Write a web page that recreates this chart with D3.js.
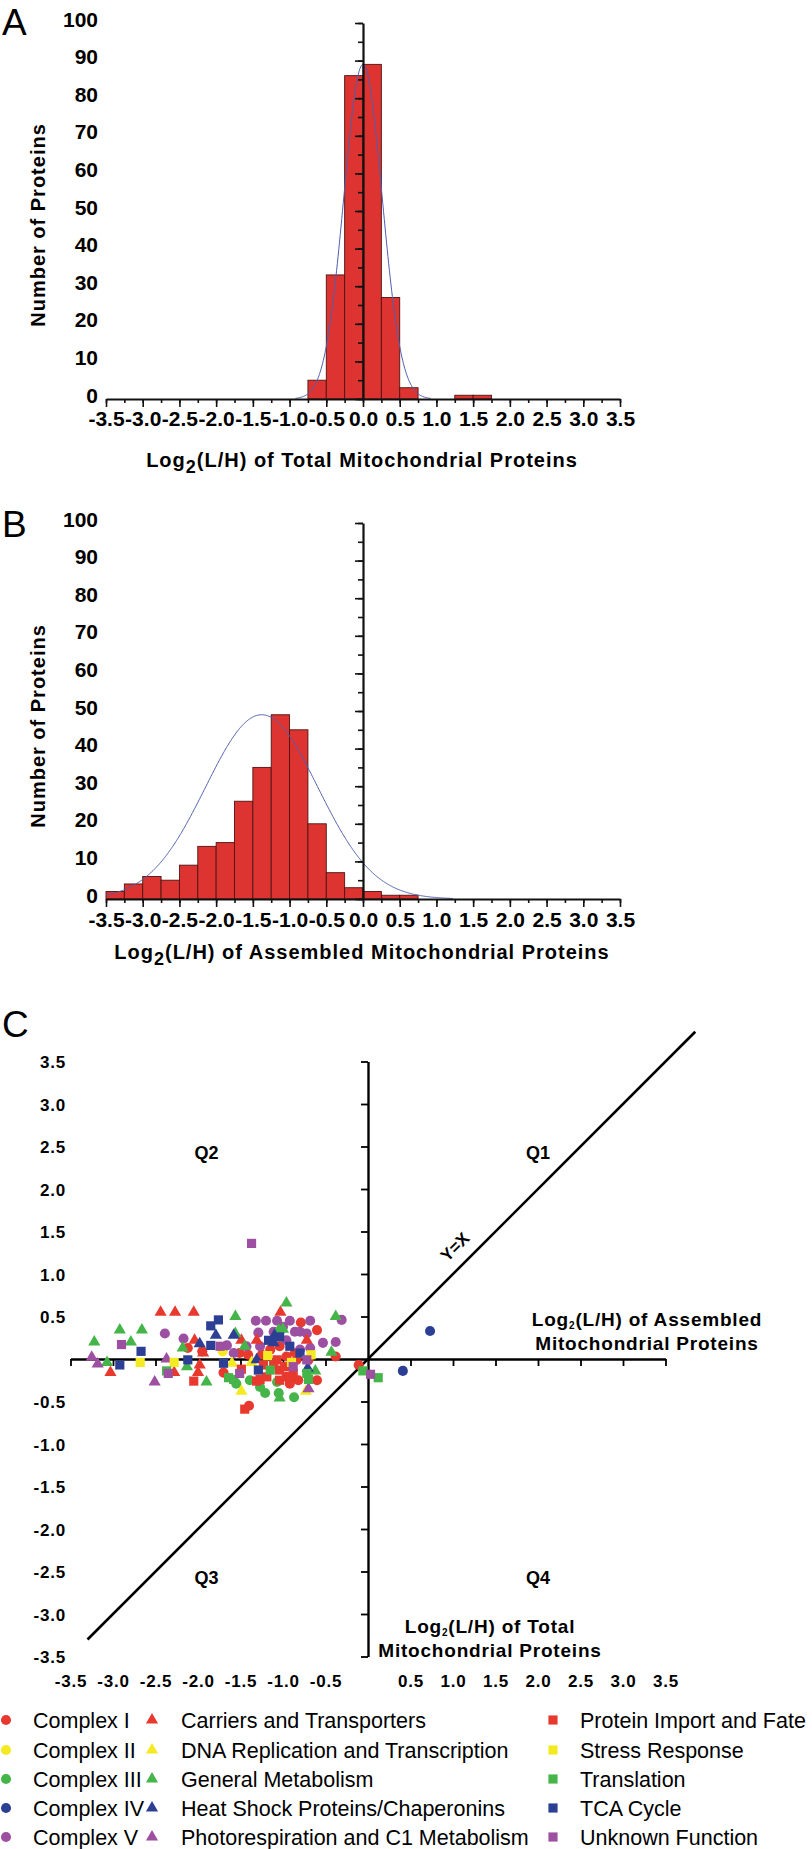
<!DOCTYPE html>
<html><head><meta charset="utf-8">
<script src="https://cdn.jsdelivr.net/npm/d3@7"></script>
<style>
body{margin:0;background:#fff;}
svg text{font-family:"Liberation Sans", Arial, Helvetica, sans-serif;fill:#000;}
</style></head><body>
<svg id="chart" width="812" height="1849"></svg>
<script>
// ---------------- DATA ----------------
const binWidth = 0.25;
const binStartsA = [-0.75, -0.5, -0.25, 0, 0.25, 0.5, 1.25, 1.5];
const countsA    = [5, 33, 86, 89, 27, 3, 1, 1];
const binStartsB = [-3.5, -3.25, -3.0, -2.75, -2.5, -2.25, -2.0, -1.75, -1.5, -1.25, -1.0, -0.75, -0.5, -0.25, 0, 0.25, 0.5];
const countsB    = [2, 4, 6, 5, 9, 14, 15, 26, 35, 49, 45, 20, 7, 3, 2, 1, 1];
// fitted normal curves (mean, sd, peak height)
const fitMeanA = 0.0,  fitSdA = 0.26,  fitPeakA = 89;
const fitMeanB = -1.38, fitSdB = 0.765, fitPeakB = 49;

const histXTicks = [-3.5,-3.0,-2.5,-2.0,-1.5,-1.0,-0.5,0.0,0.5,1.0,1.5,2.0,2.5,3.0,3.5];
const histXTickLabels = ["-3.5","-3.0","-2.5","-2.0","-1.5","-1.0","-0.5","0.0","0.5","1.0","1.5","2.0","2.5","3.0","3.5"];
const histYTicks = [0,10,20,30,40,50,60,70,80,90,100];

const scatTicks = [-3.5,-3.0,-2.5,-2.0,-1.5,-1.0,-0.5,0.5,1.0,1.5,2.0,2.5,3.0,3.5];
const scatTickLabels = ["-3.5","-3.0","-2.5","-2.0","-1.5","-1.0","-0.5","0.5","1.0","1.5","2.0","2.5","3.0","3.5"];
const yxLineExtent = [-3.3, 3.85];

const legendLabels = [
  "Complex I","Complex II","Complex III","Complex IV","Complex V",
  "Carriers and Transporters","DNA Replication and Transcription","General Metabolism","Heat Shock Proteins/Chaperonins","Photorespiration and C1 Metabolism",
  "Protein Import and Fate","Stress Response","Translation","TCA Cycle","Unknown Function"
];

// scatter points, group = index into legendLabels
const scatterX = [
 -3.22,-3.25,-3.18,-3.07,-3.03,-2.90,-2.92,-2.79,-2.92,-2.67,-2.66,-2.68,-2.51,-2.44,-2.27,-2.05,-2.39,-2.17,-2.12,-2.18,
 -2.28,-2.37,-2.37,-2.35,-2.28,-2.12,-2.13,-2.04,-1.98,-2.00,-2.05,-1.90,-1.98,-1.85,-1.76,-1.85,-1.79,-1.95,-1.94,-1.66,
 -1.58,-1.56,-1.56,-1.71,-1.58,-1.70,-1.70,-1.64,-1.55,-1.58,-1.49,-1.45,-1.41,-1.49,-1.60,-1.51,-1.49,-1.45,-1.40,-1.37,
 -1.37,-1.39,-1.31,-1.27,-1.32,-1.20,-1.07,-0.92,-0.68,-1.03,-0.96,-1.05,-1.00,-0.79,-0.60,-1.29,-1.11,-0.86,-0.80,-1.10,
 -1.17,-1.11,-0.96,-1.31,-0.72,-0.53,-0.38,-1.27,-1.25,-1.18,-1.04,-0.92,-0.80,-0.80,-0.68,-0.67,-0.96,-1.07,-1.11,-0.90,
 -1.29,-1.04,-1.15,-0.88,-0.92,-0.82,-1.07,-1.21,-1.05,-1.04,-0.87,-0.71,-0.62,-0.70,-0.60,-0.70,-0.73,-0.43,-0.38,-0.38,
 -0.31,-0.11,-0.06,0.03,0.12,0.41,0.73,
 -1.51,-1.43,-1.23,-1.15,-1.04,-0.98,-0.88,-0.84,-1.19,-1.27,-0.88,-1.74,-0.72,-0.72,-0.70,-1.31,-0.92,-0.72,-0.96,-1.04,-1.00
];
const scatterY = [
 0.20,0.02,-0.06,-0.04,-0.16,0.17,0.34,0.20,-0.07,0.09,0.34,-0.04,-0.27,0.55,0.55,0.55,0.30,0.24,0.13,0.13,
 -0.04,0.00,-0.14,-0.17,-0.16,-0.01,-0.09,0.22,-0.07,-0.16,-0.26,-0.27,0.18,0.39,0.46,0.16,0.28,0.09,0.07,0.16,
 0.28,0.50,0.30,0.09,0.07,-0.05,-0.16,-0.22,-0.29,-0.24,0.22,0.15,0.05,-0.12,-0.05,-0.17,-0.38,-0.59,-0.55,1.36,
 -0.04,-0.25,-0.26,-0.24,0.45,0.45,0.45,0.45,0.45,0.55,0.66,0.34,0.35,0.43,0.34,0.31,0.32,0.32,0.32,0.28,
 0.22,0.19,0.22,0.22,0.22,0.19,0.20,0.15,0.05,0.04,0.15,0.15,0.11,0.07,0.13,0.05,0.03,-0.01,-0.07,-0.04,
 -0.13,-0.13,-0.13,-0.17,-0.29,-0.25,-0.27,-0.40,-0.40,-0.46,-0.45,-0.11,-0.14,-0.24,-0.25,-0.35,-0.38,0.08,0.03,0.50,
 0.46,-0.07,-0.14,-0.18,-0.22,-0.14,0.33,
 0.07,0.15,-0.07,0.11,0.26,-0.09,-0.09,-0.01,-0.21,-0.33,0.07,0.15,0.30,-0.17,-0.01,-0.01,-0.21,-0.01,-0.21,-0.25,0.38
];
const scatterGroup = [
 7,9,9,7,5,14,7,7,13,13,7,11,9,5,5,5,4,4,0,7,
 11,9,12,14,5,13,7,5,5,5,10,7,8,13,13,13,8,0,5,4,
 8,7,7,1,4,13,0,12,2,12,5,7,0,10,6,14,6,10,0,14,
 6,2,10,10,4,4,4,4,4,5,7,7,7,0,0,4,4,4,4,8,
 13,8,4,5,5,4,4,4,0,11,0,13,4,13,4,11,0,10,10,11,
 13,10,12,10,0,0,2,2,2,7,2,8,7,12,0,9,6,7,0,7,
 4,0,12,14,12,3,3,
 0,4,10,0,13,10,14,0,10,2,5,14,4,12,0,8,10,14,0,10,4
];

// ---------------- STYLE ----------------
const BAR_FILL = "#dd3431", BAR_STROKE = "#4d1512", CURVE = "#4f5fae";
const groupColors = ["#e8392e","#f3ea22","#46b549","#2c3f94","#9d4fa2"];
const groupShapes = [d3.symbolCircle, d3.symbolTriangle, d3.symbolSquare];
const shapeSizes = [80, 64, 84];
function colorOf(g){ return groupColors[g % 5]; }
function shapeOf(g){ return Math.floor(g / 5); }

const svg = d3.select("#chart");

// ---------------- HISTOGRAMS ----------------
function histogram(opt){
  const x = d3.scaleLinear().domain([-3.5,3.5]).range([106,620]);
  const y = d3.scaleLinear().domain([0,100]).range([opt.base, opt.top]);
  const g = svg.append("g");
  g.selectAll("rect").data(opt.starts).join("rect")
    .attr("x", d => x(d)).attr("width", d => x(d+binWidth)-x(d))
    .attr("y", (d,i) => y(opt.counts[i])).attr("height", (d,i) => y(0)-y(opt.counts[i]))
    .attr("fill", BAR_FILL).attr("stroke", BAR_STROKE).attr("stroke-width", 0.9);
  const xs = d3.range(-3.5, 3.5001, 0.01);
  const fy = v => opt.peak*Math.exp(-Math.pow(v-opt.mean,2)/(2*opt.sd*opt.sd));
  g.append("path").datum(xs.filter(v => fy(v) > 0.15))
    .attr("d", d3.line().x(v => x(v)).y(v => y(fy(v))))
    .attr("fill","none").attr("stroke", CURVE).attr("stroke-width", 1);
  const minor = d3.range(-3.5, 3.5001, 0.25);
  g.append("g").attr("transform",`translate(0,${opt.base})`)
    .call(d3.axisBottom(x).tickValues(minor).tickSize(4).tickFormat("").tickSizeOuter(0))
    .call(a => a.select(".domain").attr("stroke-width",2.2).attr("stroke","#111"))
    .call(a => a.selectAll("line").attr("stroke-width",1.6).attr("stroke","#111"));
  g.append("g").attr("transform",`translate(0,${opt.base})`)
    .call(d3.axisBottom(x).tickValues(histXTicks).tickSize(8).tickSizeOuter(0)
          .tickFormat((d,i) => histXTickLabels[i]))
    .call(a => a.select(".domain").remove())
    .call(a => a.selectAll("line").attr("stroke-width",1.6).attr("stroke","#111"))
    .call(a => a.selectAll("text").attr("y", opt.labOff).attr("dy", 0)
          .attr("font-size", 21).attr("font-weight","bold").attr("fill","#111"));
  const minY = d3.range(0, 100.01, 5);
  g.append("g").attr("transform",`translate(${x(0)},0)`)
    .call(d3.axisLeft(y).tickValues(minY).tickSize(5).tickFormat("").tickSizeOuter(0))
    .call(a => a.select(".domain").attr("stroke-width",2.2).attr("stroke","#111"))
    .call(a => a.selectAll("line").attr("stroke-width",1.6).attr("stroke","#111"));
  g.append("g").attr("transform",`translate(${x(0)},0)`)
    .call(d3.axisLeft(y).tickValues(histYTicks).tickSize(8).tickSizeOuter(0))
    .call(a => a.select(".domain").remove())
    .call(a => a.selectAll("line").attr("stroke-width",1.6).attr("stroke","#111"))
    .call(a => a.selectAll("text").attr("x", 98 - x(0)).attr("dy","0.15em")
          .attr("font-size", 21).attr("font-weight","bold").attr("fill","#111"));
  svg.append("text").attr("transform",`translate(45,${opt.yTitleY}) rotate(-90)`)
    .attr("text-anchor","middle").attr("font-size",20).attr("font-weight","bold")
    .attr("letter-spacing",1).text("Number of Proteins");
  const t = svg.append("text").attr("x", 362).attr("y", opt.titleY).attr("text-anchor","middle")
    .attr("font-size",20).attr("font-weight","bold").attr("letter-spacing",1);
  t.append("tspan").text("Log");
  t.append("tspan").attr("font-size",18).attr("dy",6).text("2");
  t.append("tspan").attr("dy",-6).text(opt.titleRest);
  svg.append("text").attr("x",2).attr("y",opt.letterY).attr("font-size",37).text(opt.letter);
}

histogram({starts: binStartsA, counts: countsA, mean: fitMeanA, sd: fitSdA, peak: fitPeakA,
  base: 399, top: 23, labOff: 27, titleY: 467, yTitleY: 225, letter: "A", letterY: 35,
  titleRest: "(L/H) of Total Mitochondrial Proteins"});
histogram({starts: binStartsB, counts: countsB, mean: fitMeanB, sd: fitSdB, peak: fitPeakB,
  base: 899, top: 523, labOff: 28, titleY: 959, yTitleY: 726, letter: "B", letterY: 537,
  titleRest: "(L/H) of Assembled Mitochondrial Proteins"});

// ---------------- SCATTER ----------------
const xC = d3.scaleLinear().domain([-3.5,3.5]).range([70.5,665.5]);
const yC = d3.scaleLinear().domain([-3.5,3.5]).range([1656.5,1061.5]);
const gC = svg.append("g");

svg.append("text").attr("x",2).attr("y",1037).attr("font-size",37).text("C");

gC.append("line")
  .attr("x1", xC(yxLineExtent[0])).attr("y1", yC(yxLineExtent[0]))
  .attr("x2", xC(yxLineExtent[1])).attr("y2", yC(yxLineExtent[1]))
  .attr("stroke","#000").attr("stroke-width",2.6);

gC.append("g").attr("transform",`translate(0,${yC(0)})`)
  .call(d3.axisBottom(xC).tickValues(scatTicks).tickSize(7).tickSizeOuter(0)
        .tickFormat((d,i) => scatTickLabels[i]))
  .call(a => a.select(".domain").attr("stroke-width",2.4).attr("stroke","#000"))
  .call(a => a.selectAll("line").attr("stroke-width",1.8))
  .call(a => a.selectAll("text").attr("y", 1687 - yC(0)).attr("dy",0)
        .attr("font-size",17).attr("font-weight","bold").attr("letter-spacing",0.8).attr("fill","#222"));
gC.append("g").attr("transform",`translate(${xC(0)},0)`)
  .call(d3.axisLeft(yC).tickValues(scatTicks).tickSize(7).tickSizeOuter(0)
        .tickFormat((d,i) => scatTickLabels[i]))
  .call(a => a.select(".domain").attr("stroke-width",2.4).attr("stroke","#000"))
  .call(a => a.selectAll("line").attr("stroke-width",1.8))
  .call(a => a.selectAll("text").attr("x", 66 - xC(0)).attr("dy","0.36em")
        .attr("font-size",17).attr("font-weight","bold").attr("letter-spacing",0.8).attr("fill","#222"));

const idx = d3.range(scatterX.length).sort((a,b) => scatterGroup[a]-scatterGroup[b]);
gC.selectAll("path.pt").data(idx).join("path").attr("class","pt")
  .attr("transform", i => `translate(${xC(scatterX[i])},${yC(scatterY[i])})`)
  .attr("d", i => d3.symbol(groupShapes[shapeOf(scatterGroup[i])], shapeSizes[shapeOf(scatterGroup[i])])())
  .attr("fill", i => colorOf(scatterGroup[i]));

function qlabel(txt, xv, yv){
  gC.append("text").attr("x", xC(xv)).attr("y", yC(yv)).attr("text-anchor","middle")
    .attr("font-size",18).attr("font-weight","bold").attr("fill","#222").text(txt);
}
qlabel("Q2", -1.9, 2.35);
qlabel("Q1", 2.0, 2.35);
qlabel("Q3", -1.9, -2.65);
qlabel("Q4", 2.0, -2.65);

gC.append("text").attr("transform",`translate(${xC(1.07)},${yC(1.27)}) rotate(-45)`)
  .attr("text-anchor","middle").attr("font-size",17).attr("font-weight","bold").text("Y=X");

function axTitle(xc, yb, rest, line2){
  const t = gC.append("text").attr("x", xc).attr("y", yb).attr("text-anchor","middle")
    .attr("font-size",19).attr("font-weight","bold").attr("letter-spacing",0.8).attr("fill","#222");
  t.append("tspan").text("Log");
  t.append("tspan").attr("font-size",10).attr("dy",3).text("2");
  t.append("tspan").attr("dy",-3).text(rest);
  gC.append("text").attr("x", xc).attr("y", yb+24).attr("text-anchor","middle")
    .attr("font-size",19).attr("font-weight","bold").attr("letter-spacing",0.8).attr("fill","#222").text(line2);
}
axTitle(647, 1326, "(L/H) of  Assembled", "Mitochondrial Proteins");
axTitle(490, 1633, "(L/H) of  Total", "Mitochondrial Proteins");

// ---------------- LEGEND ----------------
const legRowY = [1720, 1750, 1779, 1808, 1837];
const legMarkX = [6, 152, 553];
const legTextX = [33, 181, 580];
const leg = svg.append("g");
legendLabels.forEach((lab, g) => {
  const col = shapeOf(g), row = g % 5;
  leg.append("path").attr("transform",`translate(${legMarkX[col]},${legRowY[row]})`)
    .attr("d", d3.symbol(groupShapes[col], shapeSizes[col])()).attr("fill", colorOf(g));
  leg.append("text").attr("x", legTextX[col]).attr("y", legRowY[row]+7.5)
    .attr("font-size",21.5).attr("fill","#111").text(lab);
});
</script>
</body></html>
